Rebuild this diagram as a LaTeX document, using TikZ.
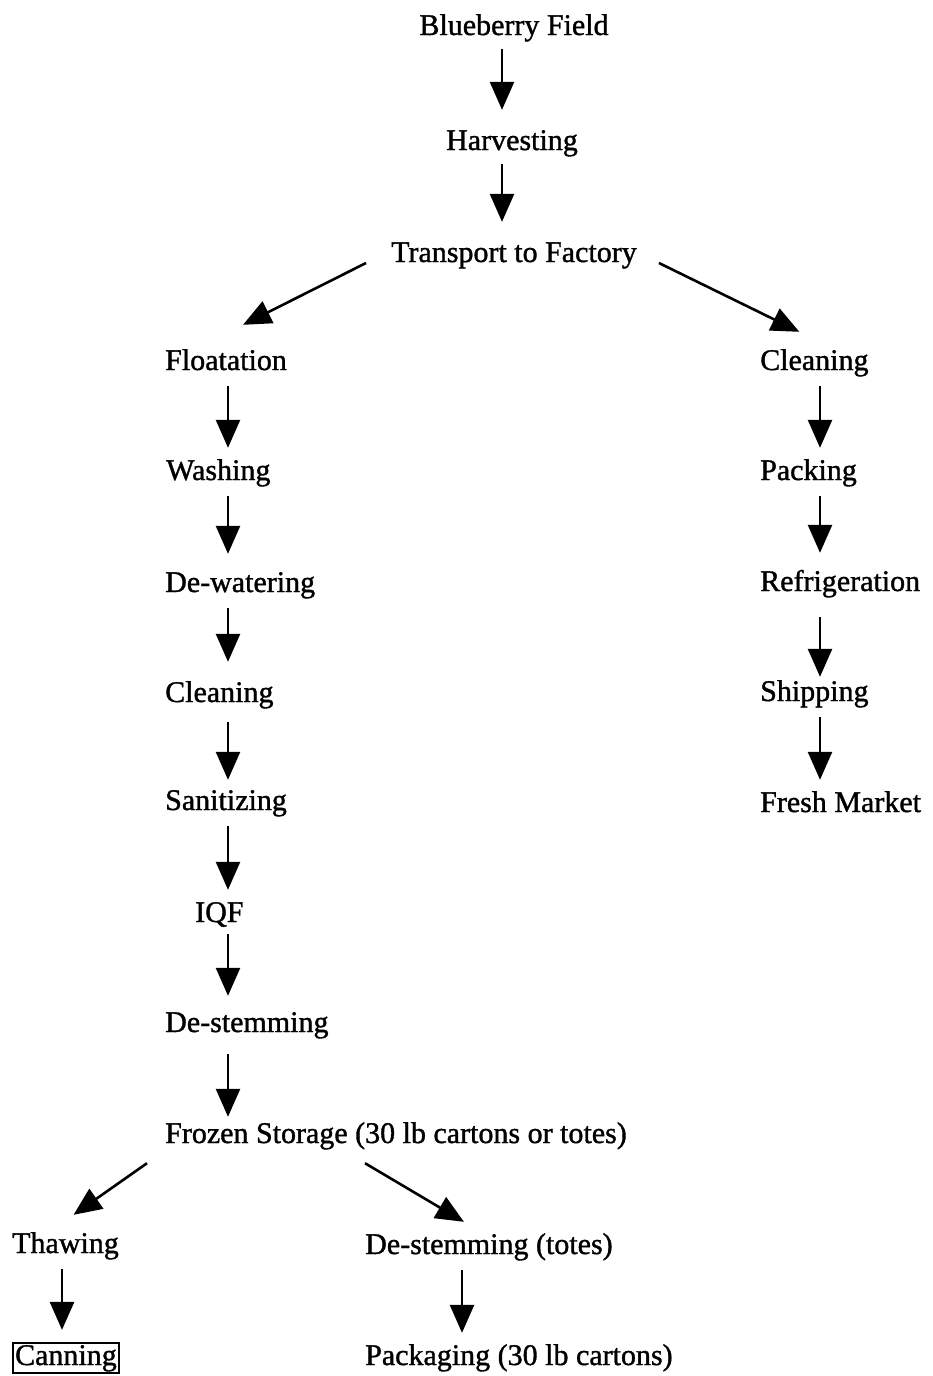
\documentclass[tikz,border=0pt]{standalone}
\usepackage{fontspec}
\setmainfont{Liberation Serif}[FakeBold=1.2]
\usetikzlibrary{arrows.meta}
\begin{document}
\begin{tikzpicture}[x=1pt,y=-1pt,
  lbl/.style={anchor=base west,inner sep=0pt,text height=20pt,text depth=6pt,font=\fontsize{30}{34}\selectfont},
  clbl/.style={lbl,anchor=base},
  arr/.style={line width=2.6pt,-{Triangle[width=24pt,length=28pt]},shorten <=10pt,shorten >=12pt},
  boxed/.style={lbl,draw,line width=2.2pt,inner xsep=2pt,inner ysep=2pt}]
\useasboundingbox (0,0) rectangle (932,1376);
% column reference coordinates
\coordinate (colT) at (502,0);
\coordinate (colL) at (228,0);
\coordinate (colR) at (820,0);
\coordinate (colA) at (62,0);
\coordinate (colB) at (462,0);
% nodes
\node[clbl] (field) at (514,35) {Blueberry Field};
\node[clbl] (harv) at (512,150) {Harvesting};
\node[clbl] (trans) at (514,262) {Transport to Factory};
\node[lbl] (float) at (165,370) {Floatation};
\node[lbl] (wash) at (166,480) {Washing};
\node[lbl] (dewat) at (165,592) {De-watering};
\node[lbl] (clean) at (165,702) {Cleaning};
\node[lbl] (sanit) at (165,810) {Sanitizing};
\node[lbl] (iqf) at (195,922) {IQF};
\node[lbl] (destem) at (165,1032) {De-stemming};
\node[lbl] (frozen) at (165,1143) {Frozen Storage (30 lb cartons or totes)};
\node[lbl] (thaw) at (12,1253) {Thawing};
\node[boxed] (can) at (12,1365) {Canning};
\node[lbl] (totes) at (365,1254) {De-stemming (totes)};
\node[lbl] (pack) at (365,1365) {Packaging (30 lb cartons)};
\node[lbl] (rclean) at (760,370) {Cleaning};
\node[lbl] (rpack) at (760,480) {Packing};
\node[lbl] (refr) at (760,591) {Refrigeration};
\node[lbl] (ship) at (760,701) {Shipping};
\node[lbl] (fresh) at (760,812) {Fresh Market};
% vertical arrows
\draw[arr,shorten >=20pt,shorten <=8pt] (field.south -| colT) -- (harv.north -| colT);
\draw[arr,shorten >=20pt,shorten <=8pt] (harv.south -| colT) -- (trans.north -| colT);
\draw[arr] (float.south -| colL) -- (wash.north -| colL);
\draw[arr,shorten >=18pt] (wash.south -| colL) -- (dewat.north -| colL);
\draw[arr,shorten >=20pt] (dewat.south -| colL) -- (clean.north -| colL);
\draw[arr,shorten >=10pt,shorten <=14pt] (clean.south -| colL) -- (sanit.north -| colL);
\draw[arr] (sanit.south -| colL) -- (iqf.north -| colL);
\draw[arr,shorten <=6pt,shorten >=16pt] (iqf.south -| colL) -- (destem.north -| colL);
\draw[arr,shorten <=16pt,shorten >=6pt] (destem.south -| colL) -- (frozen.north -| colL);
\draw[arr] (thaw.south -| colA) -- (can.north -| colA);
\draw[arr] (totes.south -| colB) -- (pack.north -| colB);
\draw[arr] (rclean.south -| colR) -- (rpack.north -| colR);
\draw[arr,shorten >=18pt] (rpack.south -| colR) -- (refr.north -| colR);
\draw[arr,shorten <=20pt,shorten >=4pt] (refr.south -| colR) -- (ship.north -| colR);
\draw[arr] (ship.south -| colR) -- (fresh.north -| colR);
% diagonal arrows
\draw[arr,shorten <=0pt,shorten >=0pt] ([xshift=-25pt,yshift=-8pt]trans.west) -- ([xshift=17pt,yshift=25pt]float.north);
\draw[arr,shorten <=0pt,shorten >=0pt] ([xshift=22pt,yshift=-8pt]trans.east) -- ([xshift=-15pt,yshift=18pt]rclean.north);
\draw[arr,shorten <=0pt,shorten >=0pt] ([xshift=-18pt,yshift=-14pt]frozen.south west) -- ([xshift=8pt,yshift=18pt]thaw.north);
\draw[arr,shorten <=0pt,shorten >=0pt] ([xshift=200pt,yshift=-14pt]frozen.south west) -- ([xshift=-25pt,yshift=12pt]totes.north);
\end{tikzpicture}
\end{document}
